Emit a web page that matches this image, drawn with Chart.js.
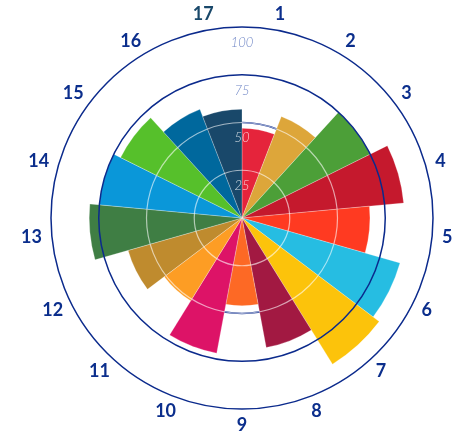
<!DOCTYPE html>
<html>
<head>
<meta charset="utf-8">
<script src="https://cdn.jsdelivr.net/npm/chart.js@4/dist/chart.umd.min.js"></script>
<style>
  html, body { margin: 0; padding: 0; background: #ffffff; }
  #wrap { width: 464px; height: 438px; }
</style>
</head>
<body>
<div id="wrap"><canvas id="goals-chart"></canvas></div>
<script>
// Data
const goalLabels = ['1', '2', '3', '4', '5', '6', '7', '8', '9', '10', '11', '12', '13', '14', '15', '16', '17'];
const goalScores = [47, 57, 75, 85, 67, 86, 90, 69, 46, 72, 51, 62, 80, 75, 71, 61, 57];
const goalColors = ['#E5243B', '#DDA63A', '#4C9F38', '#C5192D', '#FF3A21', '#26BDE2', '#FCC30B', '#A21942',
    '#FD6925', '#DD1367', '#FD9D24', '#BF8B2E', '#3F7E44', '#0A97D9', '#56C02B', '#00689D', '#19486A'];
const labelColors = goalLabels.map((l, i) => i === 16 ? '#19486A' : '#0B2E8C');
const scaleTicks = [25, 50, 75, 100];

const NAVY = '#0B2A8C';

// ring at 50 that peeks out from behind the short bars
const underRing = {
    id: 'underRing',
    beforeDatasetsDraw(chart) {
        const r = chart.scales.r;
        const ctx = chart.ctx;
        ctx.save();
        ctx.strokeStyle = NAVY;
        ctx.lineWidth = 1.5;
        ctx.beginPath();
        ctx.arc(r.xCenter, r.yCenter, r.getDistanceFromCenterForValue(50), 0, Math.PI * 2);
        ctx.stroke();
        ctx.restore();
    }
};

// goal numbers round the outside
const goalNumbers = {
    id: 'goalNumbers',
    afterDraw(chart) {
        const r = chart.scales.r;
        const ctx = chart.ctx;
        const base = r.getDistanceFromCenterForValue(100) + 10;
        ctx.save();
        ctx.font = 'bold 18px Lato, "Open Sans", sans-serif';
        ctx.textAlign = 'center';
        ctx.textBaseline = 'middle';
        goalLabels.forEach((label, i) => {
            const a = r.getIndexAngle(i + 0.5);
            const p = r.getPointPosition(i + 0.5, base);
            const w = ctx.measureText(label).width;
            const h = 13;
            const x = p.x + Math.sin(a) * w / 2;
            const y = p.y - Math.cos(a) * h / 2;
            ctx.fillStyle = labelColors[i];
            ctx.fillText(label, x, y);
        });
        ctx.restore();
    }
};

const onWhite = v => v <= 50;

new Chart(document.getElementById('goals-chart'), {
    type: 'polarArea',
    data: {
        labels: goalLabels,
        datasets: [{
            data: goalScores,
            backgroundColor: goalColors,
            borderColor: 'rgba(255,255,255,0.5)',
            borderWidth: 0.5
        }]
    },
    options: {
        responsive: true,
        maintainAspectRatio: false,
        animation: false,
        layout: { padding: { left: 42, right: 22, top: 18, bottom: 20 } },
        plugins: {
            legend: { display: false },
            tooltip: { enabled: false }
        },
        scales: {
            r: {
                min: 0,
                max: 100,
                startAngle: 0,
                angleLines: { display: false },
                pointLabels: { display: false },
                grid: {
                    z: 1,
                    circular: true,
                    color: ctx => onWhite(ctx.tick.value) ? 'rgba(255,255,255,0.6)' : NAVY,
                    lineWidth: ctx => onWhite(ctx.tick.value) ? 1.2 : 1.5
                },
                ticks: {
                    z: 1,
                    stepSize: 25,
                    showLabelBackdrop: false,
                    color: ctx => onWhite(ctx.tick.value) ? 'rgba(255,255,255,0.8)' : '#6F86C6',
                    font: { family: 'Lato', style: 'italic', weight: '300', size: 13 },
                    callback: v => scaleTicks.includes(v) ? ['', String(v)] : ''
                }
            }
        }
    },
    plugins: [underRing, goalNumbers]
});
</script>
</body>
</html>
